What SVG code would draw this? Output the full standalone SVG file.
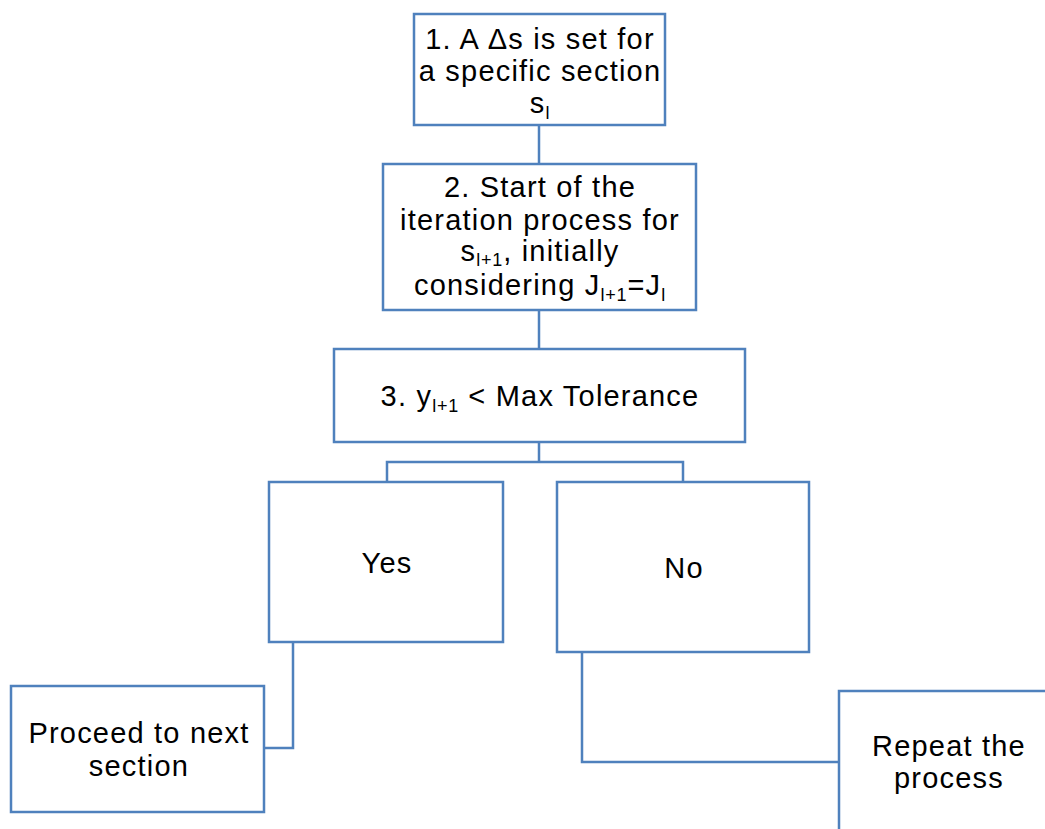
<svg xmlns="http://www.w3.org/2000/svg" width="1045" height="829" viewBox="0 0 1045 829">
<style>
.box{fill:#fff;stroke:#4F81BD;stroke-width:2.5}
.con{fill:none;stroke:#4F81BD;stroke-width:2.5}
text{font-family:"Liberation Sans",Arial,sans-serif;font-size:29px;letter-spacing:1.2px;fill:#000;text-anchor:middle}
.sub{font-size:18px;letter-spacing:0.8px}
</style>
<rect width="1045" height="829" fill="#fff"/>
<g id="connectors">
<path class="con" d="M539 125 V164"/>
<path class="con" d="M539 310 V349"/>
<path class="con" d="M539 442 V462 M387 482 V462 H683 V482"/>
<path class="con" d="M293 642 V748 H264"/>
<path class="con" d="M582 652 V762 H839"/>
</g>
<g id="n1">
<rect class="box" x="414" y="14" width="251" height="111"/>
<text x="540" y="49">1. A Δs is set for</text>
<text x="540" y="81">a specific section</text>
<text x="540" y="113">s<tspan class="sub" dy="6">l</tspan></text>
</g>
<g id="n2">
<rect class="box" x="383" y="164" width="313" height="146"/>
<text x="540" y="197">2. Start of the</text>
<text x="540" y="230">iteration process for</text>
<text x="540" y="261">s<tspan class="sub" dy="5">l+1</tspan><tspan dy="-5">, initially</tspan></text>
<text x="540" y="295">considering J<tspan class="sub" dy="6">l+1</tspan><tspan dy="-6">=J</tspan><tspan class="sub" dy="6">l</tspan></text>
</g>
<g id="n3">
<rect class="box" x="334" y="349" width="411" height="93"/>
<text x="540" y="406">3. y<tspan class="sub" dy="6">l+1</tspan><tspan dy="-6"> &lt; Max Tolerance</tspan></text>
</g>
<g id="yes">
<rect class="box" x="269" y="482" width="234" height="160"/>
<text x="387" y="573">Yes</text>
</g>
<g id="no">
<rect class="box" x="557" y="482" width="252" height="170"/>
<text x="684" y="578">No</text>
</g>
<g id="proceed">
<rect class="box" x="11" y="686" width="253" height="126"/>
<text x="139" y="743">Proceed to next</text>
<text x="139" y="776">section</text>
</g>
<g id="repeat">
<rect class="box" x="839" y="691" width="240" height="180"/>
<text x="949" y="756">Repeat the</text>
<text x="949" y="788">process</text>
</g>
</svg>
